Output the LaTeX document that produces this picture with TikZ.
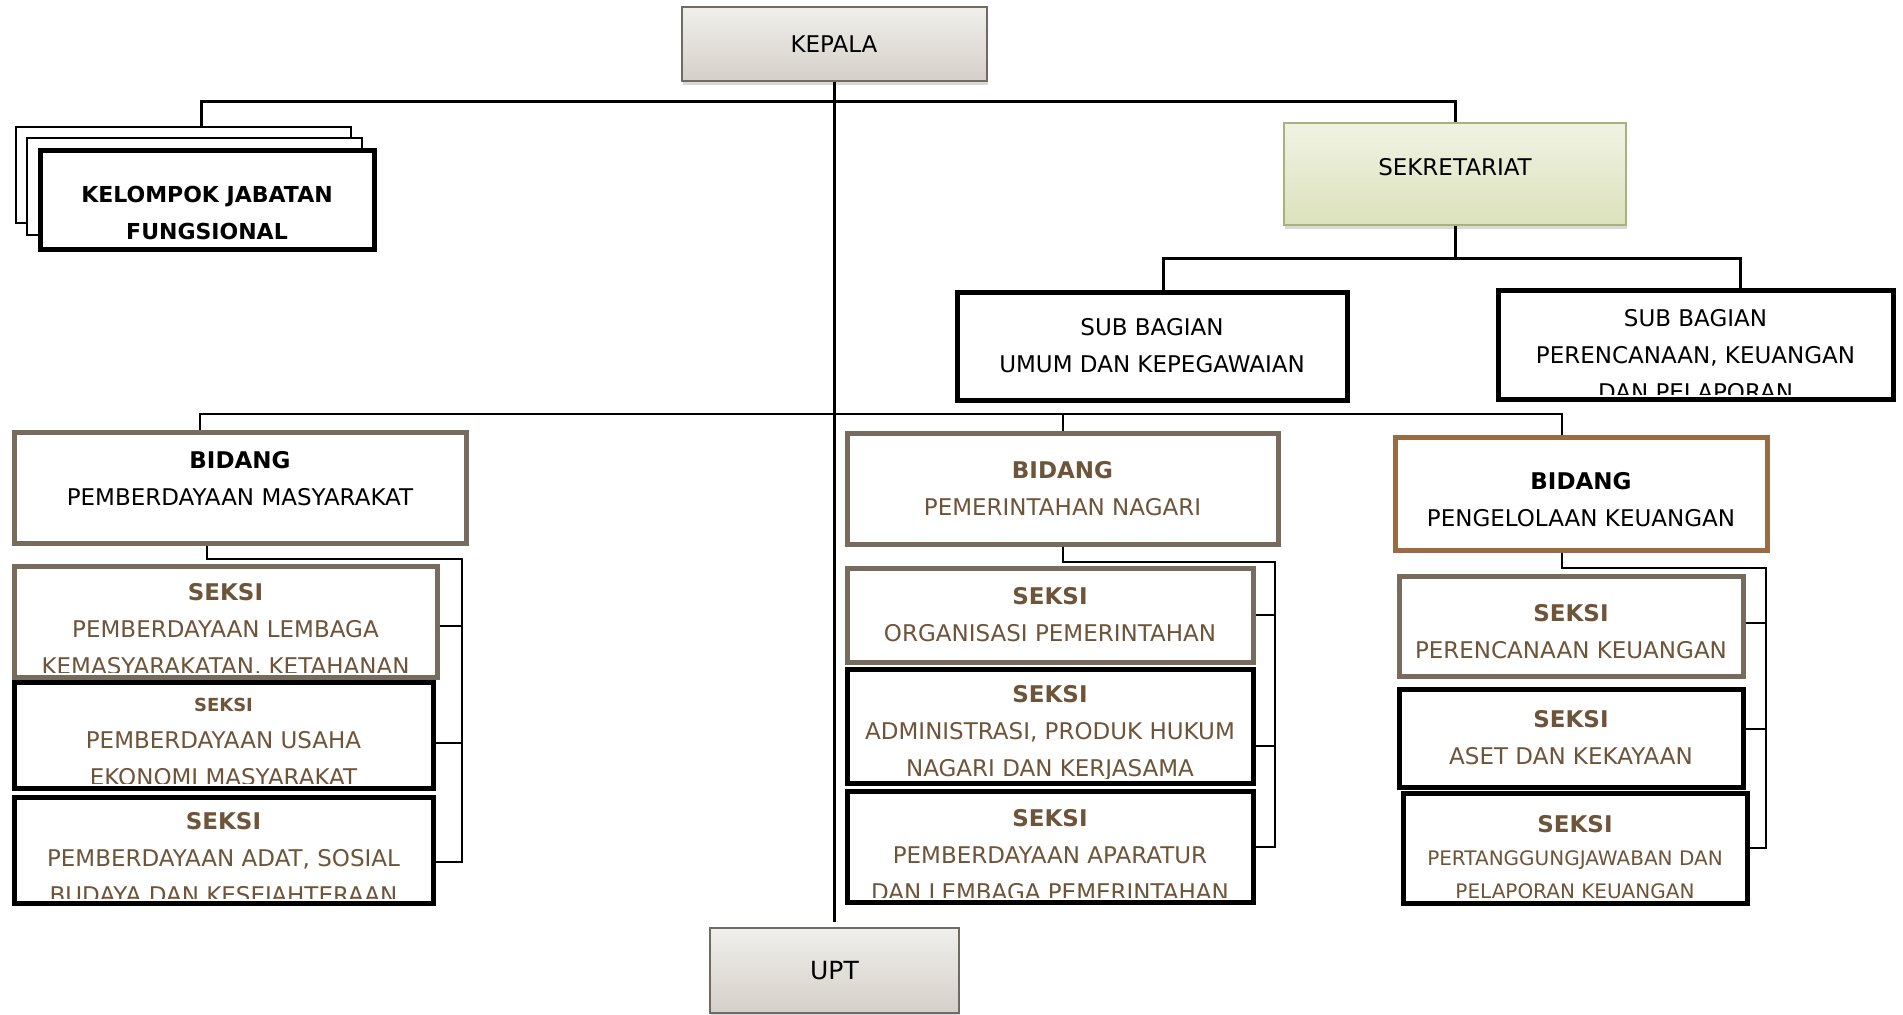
\documentclass[tikz,border=0pt]{standalone}
\usepackage{fontspec}
\setmainfont{DejaVu Sans}
\usetikzlibrary{shadows}

\definecolor{grayline}{HTML}{766B5C}
\definecolor{brownline}{HTML}{9B6C43}
\definecolor{browntext}{HTML}{6E5438}
\definecolor{headtop}{HTML}{F0EFEB}
\definecolor{headbot}{HTML}{D5CFC8}
\definecolor{headline}{HTML}{6F6A62}
\definecolor{sektop}{HTML}{F0F3E3}
\definecolor{sekbot}{HTML}{DCE1BC}
\definecolor{sekline}{HTML}{A9B27F}

\begin{document}
\begin{tikzpicture}[x=0.5pt,y=-0.5pt]
    \tikzstyle{every node}=[font=\fontsize{11.5}{18.5}\selectfont]
    \tikzstyle{headbox}=[draw=headline, line width=1pt, top color=headtop, bottom color=headbot,
        drop shadow={opacity=0.3, shadow xshift=0.5pt, shadow yshift=-2pt}]
    \tikzstyle{sekbox}=[draw=sekline, line width=1pt, top color=sektop, bottom color=sekbot,
        drop shadow={opacity=0.3, shadow xshift=0.5pt, shadow yshift=-2pt}]
    \tikzstyle{blackbox}=[draw=black, line width=2.5pt, fill=white]
    \tikzstyle{graybox}=[draw=grayline, line width=2.5pt, fill=white]
    \tikzstyle{brownbox}=[draw=brownline, line width=2.5pt, fill=white]
    \tikzstyle{thinbox}=[draw=black, line width=1pt, fill=white]
    \tikzstyle{boxtext}=[align=center, inner sep=0pt]
    \tikzstyle{seksitext}=[align=center, inner sep=0pt, text=browntext]
    \tikzstyle{conn}=[line width=1pt]
    \tikzstyle{mainconn}=[line width=1.5pt]

    \useasboundingbox (0,0) rectangle (1903,1014);

    % kepala dan upt
    \node[headbox, minimum width=152.5pt, minimum height=37pt] (kepala) at (834,44) {KEPALA};
    \node[headbox, minimum width=124.5pt, minimum height=42.5pt, font=\fontsize{12.5}{15}\selectfont]
        (upt) at (834.5,970.5) {UPT};
    \coordinate (upttop) at (834,922);
    \draw[mainconn] (kepala.south) -- (upttop);

    % kelompok jabatan fungsional
    \node[thinbox, minimum width=167.5pt, minimum height=48pt] (kjf1) at (183.5,175) {};
    \node[thinbox, minimum width=167.5pt, minimum height=48.5pt] (kjf2) at (194.5,186.5) {};
    \node[blackbox, minimum width=167pt, minimum height=49.5pt] (kjf) at (207,199.5) {};
    \node[boxtext, font=\fontsize{11}{18.5}\selectfont\bfseries] (kjft) at (207,212.5)
        {KELOMPOK JABATAN\\FUNGSIONAL};

    % sekretariat
    \node[sekbox, minimum width=171pt, minimum height=51pt] (sek) at (1455,174) {};
    \node[boxtext] (sekt) at (1455,167) {SEKRETARIAT};
    \coordinate (jkjf) at (201,101);
    \draw[mainconn] (kjf1.north -| jkjf) -- (jkjf) -| (sek.north);

    % sub bagian
    \node[blackbox, minimum width=195pt, minimum height=54pt, align=center] (sbu) at (1152,346)
        {SUB BAGIAN\\UMUM DAN KEPEGAWAIAN};
    \node[blackbox, minimum width=197.5pt, minimum height=54.5pt] (sbp) at (1695.5,344.5) {};
    \begin{scope}
        \clip ([shift={(1.25pt,3.5pt)}]sbp.south west) rectangle ([shift={(-1.25pt,-1.25pt)}]sbp.north east);
        \node[boxtext] (sbpt) at (1695.5,355) {SUB BAGIAN\\PERENCANAAN, KEUANGAN\\DAN PELAPORAN};
    \end{scope}
    \coordinate (jsbu) at (1163,258);
    \coordinate (jsbp) at (1740,258);
    \draw[mainconn] (sek.south) -- (sek.south |- jsbu);
    \draw[mainconn] (sbu.north -| jsbu) -- (jsbu) -- (jsbp) -- (sbp.north -| jsbp);

    % bidang
    \node[graybox, minimum width=226pt, minimum height=55.5pt] (bpm) at (240,487.5) {};
    \node[boxtext] (bpmt) at (240,478.5) {\textbf{BIDANG}\\PEMBERDAYAAN MASYARAKAT};
    \node[graybox, minimum width=215.5pt, minimum height=55.5pt, seksitext, inner sep=3pt] (bpn) at (1062.5,488.5)
        {\textbf{BIDANG}\\PEMERINTAHAN NAGARI};
    \node[brownbox, minimum width=186pt, minimum height=56.5pt] (bpk) at (1581,493.5) {};
    \node[boxtext] (bpkt) at (1581,500) {\textbf{BIDANG}\\PENGELOLAAN KEUANGAN};
    \coordinate (jbpm) at (200,414);
    \coordinate (jbpk) at (1562,414);
    \draw[conn] (bpm.north -| jbpm) -- (jbpm) -- (jbpk) -- (bpk.north -| jbpk);
    \draw[conn] (bpn.north) -- (bpn.north |- jbpm);

    % seksi pemberdayaan masyarakat
    \node[graybox, minimum width=211.5pt, minimum height=55.5pt] (spm1) at (225.5,621.5) {};
    \begin{scope}
        \clip ([shift={(1.25pt,3.5pt)}]spm1.south west) rectangle ([shift={(-1.25pt,-1.25pt)}]spm1.north east);
        \node[seksitext] (spm1t) at (225.5,630) {\textbf{SEKSI}\\PEMBERDAYAAN LEMBAGA\\KEMASYARAKATAN, KETAHANAN};
    \end{scope}
    \node[blackbox, minimum width=209.5pt, minimum height=53pt] (spm2) at (223.5,735) {};
    \begin{scope}
        \clip ([shift={(1.25pt,3.5pt)}]spm2.south west) rectangle ([shift={(-1.25pt,-1.25pt)}]spm2.north east);
        \node[seksitext] (spm2t) at (223.5,742)
            {{\fontsize{9}{18}\selectfont\bfseries SEKSI}\\PEMBERDAYAAN USAHA\\EKONOMI MASYARAKAT};
    \end{scope}
    \node[blackbox, minimum width=209.5pt, minimum height=53pt] (spm3) at (223.5,850) {};
    \begin{scope}
        \clip ([shift={(1.25pt,3.5pt)}]spm3.south west) rectangle ([shift={(-1.25pt,-1.25pt)}]spm3.north east);
        \node[seksitext] (spm3t) at (223.5,860) {\textbf{SEKSI}\\PEMBERDAYAAN ADAT, SOSIAL\\BUDAYA DAN KESEJAHTERAAN};
    \end{scope}
    \coordinate (pmtop) at (207,559);
    \coordinate (pmrail) at (462,559);
    \draw[conn] (bpm.south -| pmtop) -- (pmtop) -- (pmrail) |- ([yshift=-6pt]spm3.east);
    \draw[conn] ([yshift=-2.25pt]spm1.east) -| (pmrail);
    \draw[conn] ([yshift=-4pt]spm2.east) -| (pmrail);

    % seksi pemerintahan nagari
    \node[graybox, minimum width=203pt, minimum height=47pt, seksitext] (sop) at (1050,615)
        {\textbf{SEKSI}\\ORGANISASI PEMERINTAHAN};
    \node[blackbox, minimum width=203pt, minimum height=57pt] (sadm) at (1050,726) {};
    \begin{scope}
        \clip ([shift={(1.25pt,3.5pt)}]sadm.south west) rectangle ([shift={(-1.25pt,-1.25pt)}]sadm.north east);
        \node[seksitext] (sadmt) at (1050,733) {\textbf{SEKSI}\\ADMINISTRASI, PRODUK HUKUM\\NAGARI DAN KERJASAMA};
    \end{scope}
    \node[blackbox, minimum width=203pt, minimum height=55.5pt] (spa) at (1050,846.5) {};
    \begin{scope}
        \clip ([shift={(1.25pt,3.5pt)}]spa.south west) rectangle ([shift={(-1.25pt,-1.25pt)}]spa.north east);
        \node[seksitext] (spat) at (1050,855) {\textbf{SEKSI}\\PEMBERDAYAAN APARATUR\\DAN LEMBAGA PEMERINTAHAN};
    \end{scope}
    \coordinate (pnrail) at (1275,562);
    \draw[conn] (bpn.south) -- (bpn.south |- pnrail) -- (pnrail) |- (spa.east);
    \draw[conn] (sop.east) -| (pnrail);
    \draw[conn] ([yshift=-10pt]sadm.east) -| (pnrail);

    % seksi pengelolaan keuangan
    \node[graybox, minimum width=172pt, minimum height=50pt] (spk) at (1571,626) {};
    \node[seksitext] (spkt) at (1571,632) {\textbf{SEKSI}\\PERENCANAAN KEUANGAN};
    \node[blackbox, minimum width=172pt, minimum height=49pt, seksitext] (sak) at (1571,738)
        {\textbf{SEKSI}\\ASET DAN KEKAYAAN};
    \node[blackbox, minimum width=172pt, minimum height=55pt] (sppk) at (1575,848) {};
    \begin{scope}
        \clip ([shift={(1.25pt,3.5pt)}]sppk.south west) rectangle ([shift={(-1.25pt,-1.25pt)}]sppk.north east);
        \node[seksitext, font=\fontsize{10}{16.5}\selectfont] (sppkt) at (1575,857)
            {{\fontsize{11.5}{18.5}\selectfont\bfseries SEKSI}\\PERTANGGUNGJAWABAN DAN\\PELAPORAN KEUANGAN};
    \end{scope}
    \coordinate (pktop) at (1562,568);
    \coordinate (pkrail) at (1766,568);
    \draw[conn] (bpk.south -| pktop) -- (pktop) -- (pkrail) |- (sppk.east);
    \draw[conn] ([yshift=1.5pt]spk.east) -| (pkrail);
    \draw[conn] ([yshift=4.5pt]sak.east) -| (pkrail);

\end{tikzpicture}
\end{document}
